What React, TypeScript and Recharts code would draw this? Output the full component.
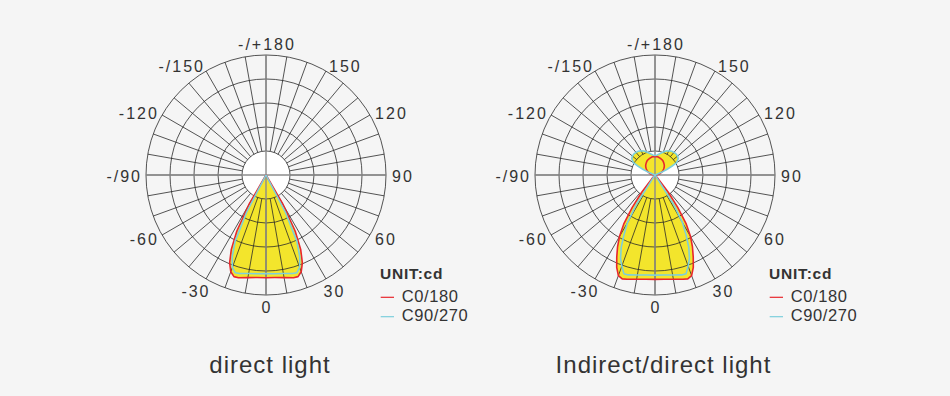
import React from 'react';
import { RadarChart, Radar, PolarGrid, PolarAngleAxis, PolarRadiusAxis } from 'recharts';

// gamma angles of the measured points, 0 = straight down (denser where the curves turn)
const ANGLES = [
  0, 5, 10, 15, 17.5, 20, 22.5, 25, 27.5, 30, 32.5, 35, 37.5, 40, 42.5, 45,
  50, 55, 60, 65, 70, 75, 80, 85, 90, 95, 100, 105, 110,
  112.5, 115, 117.5, 120, 125, 130, 135, 140, 145, 150, 155, 160, 165, 170, 175,
  180,
  185, 190, 195, 200, 205, 210, 215, 220, 225, 230, 235, 240, 242.5, 245, 247.5,
  250, 255, 260, 265, 270, 275, 280, 285, 290, 295, 300, 305, 310,
  315, 317.5, 320, 322.5, 325, 327.5, 330, 332.5, 335, 337.5, 340, 342.5, 345, 350, 355,
];

const LABEL_ANGLES = [0, 30, 60, 90, 120, 150, 180, 210, 240, 270, 300, 330];
const LABELS = ['0', '30', '60', '90', '120', '150', '-/+180', '-/150', '-120', '-/90', '-60', '-30'];
const GRID_ANGLES = [
  0, 10, 20, 30, 40, 50, 60, 70, 80, 90, 100, 110, 120, 130, 140, 150, 160, 170,
  180, 190, 200, 210, 220, 230, 240, 250, 260, 270, 280, 290, 300, 310, 320, 330, 340, 350,
];
const CROSS_ANGLES = [0, 90, 180, 270];
const RING_VALUES = [100, 200, 300, 400, 500];

// direct light (cd)
const DIRECT_C0 = [
  428, 429, 434, 443, 444, 429, 396, 342, 263, 142, 0, 0, 0, 0, 0, 0,
  0, 0, 0, 0, 0, 0, 0, 0, 0, 0, 0, 0, 0,
  0, 0, 0, 0, 0, 0, 0, 0, 0, 0, 0, 0, 0, 0, 0,
  0,
  0, 0, 0, 0, 0, 0, 0, 0, 0, 0, 0, 0, 0, 0, 0,
  0, 0, 0, 0, 0, 0, 0, 0, 0, 0, 0, 0, 0,
  0, 0, 0, 0, 0, 0, 142, 263, 342, 396, 429, 444, 443, 434, 429,
];
const DIRECT_C90 = [
  411, 413, 417, 425, 427, 410, 367, 304, 175, 0, 0, 0, 0, 0, 0, 0,
  0, 0, 0, 0, 0, 0, 0, 0, 0, 0, 0, 0, 0,
  0, 0, 0, 0, 0, 0, 0, 0, 0, 0, 0, 0, 0, 0, 0,
  0,
  0, 0, 0, 0, 0, 0, 0, 0, 0, 0, 0, 0, 0, 0, 0,
  0, 0, 0, 0, 0, 0, 0, 0, 0, 0, 0, 0, 0,
  0, 0, 0, 0, 0, 0, 0, 175, 304, 367, 410, 427, 425, 417, 413,
];

// indirect/direct light (cd)
const MIXED_C0 = [
  435, 436, 441, 450, 454, 446, 417, 377, 338, 296, 242, 165, 92, 21, 0, 0,
  0, 0, 0, 0, 0, 0, 0, 0, 0, 7, 13, 20, 26,
  30, 33, 36, 39, 44, 50, 55, 59, 63, 67, 70, 72, 74, 76, 77,
  77,
  77, 76, 74, 72, 70, 67, 63, 59, 55, 50, 44, 39, 36, 33, 30,
  26, 20, 13, 7, 0, 0, 0, 0, 0, 0, 0, 0, 0,
  0, 0, 21, 92, 165, 242, 296, 338, 377, 417, 446, 454, 450, 441, 436,
];
const MIXED_C90 = [
  417, 418, 423, 431, 431, 404, 375, 333, 279, 229, 142, 8, 0, 0, 0, 0,
  0, 0, 0, 0, 0, 0, 0, 0, 0, 0, 0, 0, 8,
  29, 54, 79, 104, 118, 123, 124, 123, 121, 117, 110, 102, 94, 88, 83,
  81,
  83, 88, 94, 102, 110, 117, 121, 123, 124, 123, 118, 104, 79, 54, 29,
  8, 0, 0, 0, 0, 0, 0, 0, 0, 0, 0, 0, 0,
  0, 0, 0, 0, 8, 142, 229, 279, 333, 375, 404, 431, 431, 423, 418,
];

const SERIES_NAMES = ['C0/180', 'C90/270'];
const UNIT_TEXT = 'UNIT:cd';
const TITLES = ['direct light', 'Indirect/direct light'];

const SIZE = 340;
const CX = 170;
const CY = 170;
const OUTER = 120;
const INNER = 24;
const MAX_CD = 500;
const CENTER_Y = 175;
const CENTERS_X = [266, 655];
const TITLE_X = [269.5, 663];

const RED = '#e8262c';
const CYAN = '#7ccfdc';
const YELLOW = '#f3e52c';
const TEXT = '#333333';
const FONT = '"Liberation Sans", Arial, sans-serif';

const directData = ANGLES.map((a, i) => ({ angle: a, c0: DIRECT_C0[i], c90: DIRECT_C90[i] }));
const mixedData = ANGLES.map((a, i) => ({ angle: a, c0: MIXED_C0[i], c90: MIXED_C90[i] }));

const toChartAngle = (g: number) => g - 90;

const LabelTick = (props: any) => {
  const g = Number(props.payload?.value);
  const idx = LABEL_ANGLES.indexOf(g);
  if (idx < 0) return null;
  const rad = (toChartAngle(g) * Math.PI) / 180;
  const sx = Math.cos(-rad);
  const sy = Math.sin(-rad);
  const anchor = sx > 0.01 ? 'start' : sx < -0.01 ? 'end' : 'middle';
  const r = anchor === 'middle' ? 131.5 : 126;
  let x = CX + r * sx;
  let y = CY + r * sy + 1;
  if (anchor !== 'middle' && sy > 0.8) {
    x -= Math.sign(sx) * 5.5;
    y += 6;
  }
  if (anchor === 'end') x += 2;
  if (anchor === 'middle') x += 1;
  return (
    <text
      x={x}
      y={y}
      textAnchor={anchor}
      dominantBaseline="central"
      fill={TEXT}
      fontSize={16}
      letterSpacing={2}
      fontFamily={FONT}
    >
      {LABELS[idx]}
    </text>
  );
};

const Layer = ({ data, inner, tick, children }: any) => (
  <RadarChart
    width={SIZE}
    height={SIZE}
    data={data}
    cx={CX}
    cy={CY}
    innerRadius={inner}
    outerRadius={OUTER}
    startAngle={-90}
    endAngle={270}
    margin={{ top: 0, right: 0, bottom: 0, left: 0 }}
  >
    <PolarAngleAxis
      type="number"
      dataKey="angle"
      domain={[0, 360]}
      ticks={LABEL_ANGLES}
      tick={tick ?? false}
      axisLine={false}
      tickLine={false}
    />
    <PolarRadiusAxis type="number" domain={[0, MAX_CD]} tick={false} axisLine={false} />
    {children}
  </RadarChart>
);

const layerStyle = (cx: number): React.CSSProperties => ({
  position: 'absolute',
  left: cx - CX,
  top: CENTER_Y - CY,
  width: SIZE,
  height: SIZE,
});

const Diagram = ({ data, cx }: { data: any[]; cx: number }) => (
  <>
    <div
      style={{
        position: 'absolute',
        left: cx - INNER,
        top: CENTER_Y - INNER,
        width: INNER * 2,
        height: INNER * 2,
        borderRadius: '50%',
        background: '#ffffff',
      }}
    />
    {/* yellow fill under the grid */}
    <div style={layerStyle(cx)}>
      <Layer data={data} inner={0}>
        <Radar dataKey="c0" fill={YELLOW} fillOpacity={1} stroke="none" isAnimationActive={false} />
        <Radar dataKey="c90" fill={YELLOW} fillOpacity={1} stroke="none" isAnimationActive={false} />
      </Layer>
    </div>
    {/* grid: rings + radial lines starting at the inner ring */}
    <div style={layerStyle(cx)}>
      <Layer data={data} inner={INNER} tick={LabelTick}>
        <PolarGrid
          gridType="circle"
          polarRadius={RING_VALUES.map((v) => (v / MAX_CD) * OUTER)}
          polarAngles={GRID_ANGLES.map(toChartAngle)}
          stroke="#2a2a2a"
          strokeWidth={0.8}
        />
      </Layer>
    </div>
    {/* axis cross + outlines */}
    <div style={layerStyle(cx)}>
      <Layer data={data} inner={0}>
        <PolarGrid
          gridType="circle"
          polarRadius={[]}
          polarAngles={CROSS_ANGLES.map(toChartAngle)}
          stroke="#8c8c8c"
          strokeWidth={1.4}
        />
        <Radar name={SERIES_NAMES[0]} dataKey="c0" fillOpacity={0} stroke={RED} strokeWidth={1.6} strokeLinejoin="round" isAnimationActive={false} />
        <Radar name={SERIES_NAMES[1]} dataKey="c90" fillOpacity={0} stroke={CYAN} strokeWidth={1.6} strokeLinejoin="round" isAnimationActive={false} />
      </Layer>
    </div>
  </>
);

const LegendBlock = ({ cx }: { cx: number }) => {
  const x = cx + 114;
  return (
    <g fontFamily={FONT} fill={TEXT}>
      <text x={x} y={279.3} fontSize={15.5} fontWeight="bold" letterSpacing={0.8}>
        {UNIT_TEXT}
      </text>
      <line x1={x + 0.7} x2={x + 14} y1={297.3} y2={297.3} stroke={RED} strokeWidth={1.2} />
      <text x={x + 21.7} y={301.7} fontSize={16.5} letterSpacing={0.6}>
        {SERIES_NAMES[0]}
      </text>
      <line x1={x + 0.7} x2={x + 14} y1={316.7} y2={316.7} stroke={CYAN} strokeWidth={1.2} />
      <text x={x + 21.7} y={321} fontSize={16.5} letterSpacing={0.6}>
        {SERIES_NAMES[1]}
      </text>
    </g>
  );
};

export default function App() {
  return (
    <div
      style={{
        position: 'absolute',
        left: 0,
        top: 0,
        width: 950,
        height: 396,
        background: '#f5f5f5',
        overflow: 'hidden',
      }}
    >
      <Diagram data={directData} cx={CENTERS_X[0]} />
      <Diagram data={mixedData} cx={CENTERS_X[1]} />
      <svg
        width={950}
        height={396}
        style={{ position: 'absolute', left: 0, top: 0, pointerEvents: 'none' }}
      >
        <LegendBlock cx={CENTERS_X[0]} />
        <LegendBlock cx={CENTERS_X[1]} />
        {TITLES.map((t, i) => (
          <text
            key={t}
            x={TITLE_X[i] + 0.5}
            y={373.3}
            textAnchor="middle"
            fontSize={24}
            letterSpacing={1}
            fill={TEXT}
            fontFamily={FONT}
          >
            {t}
          </text>
        ))}
      </svg>
    </div>
  );
}
